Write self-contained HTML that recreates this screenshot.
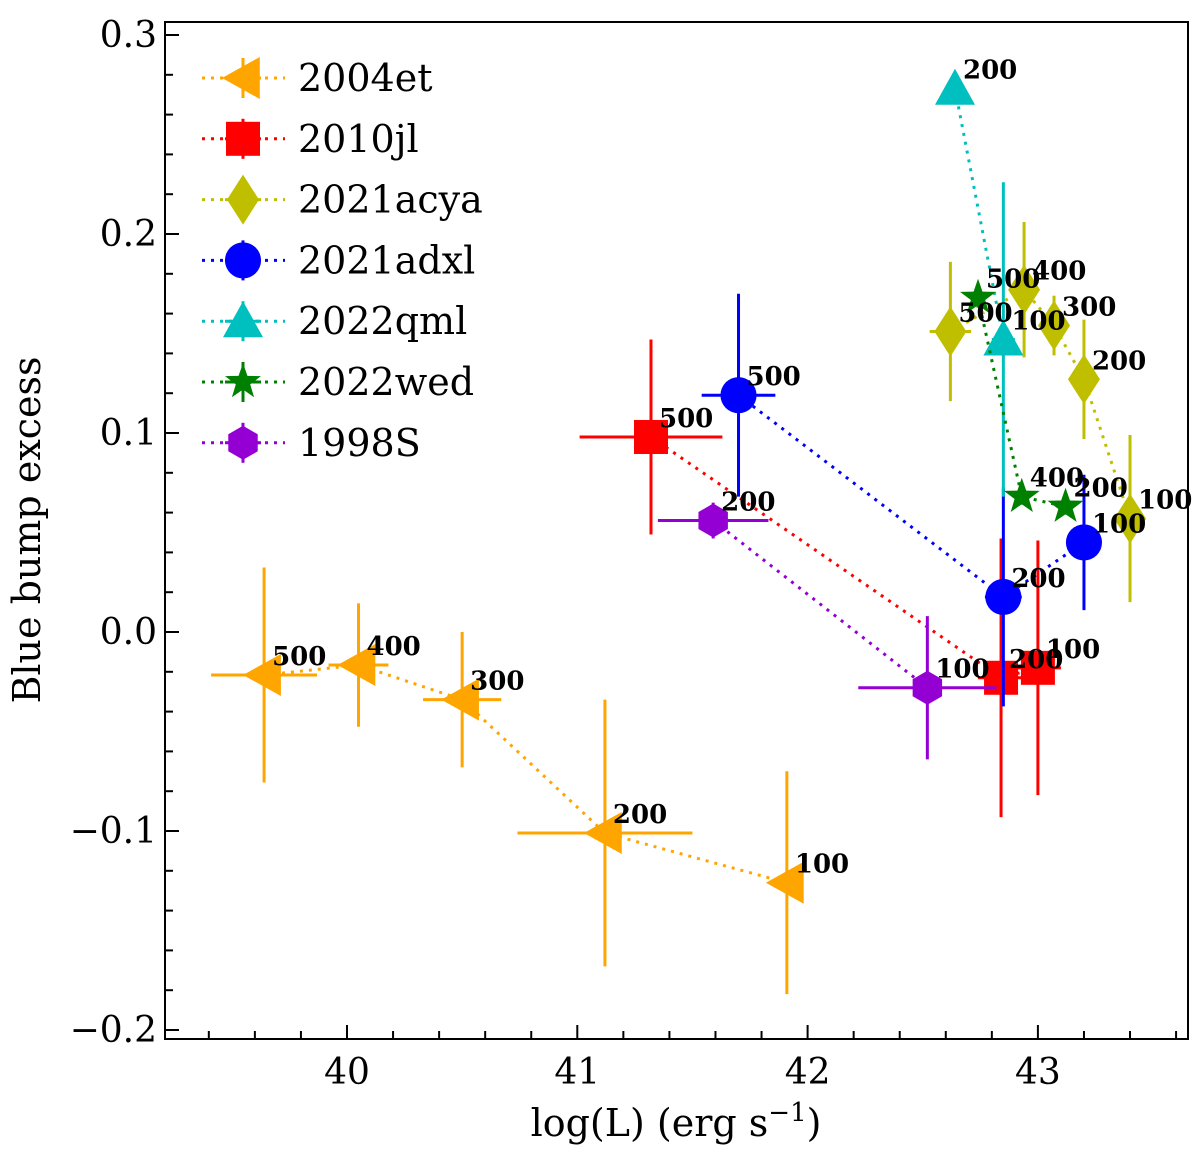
<!DOCTYPE html>
<html><head><meta charset="utf-8"><style>
body{margin:0;background:#fff}
svg text{font-family:"DejaVu Serif","Liberation Serif",serif}
</style></head><body>
<svg id="chart" width="1200" height="1156" xmlns="http://www.w3.org/2000/svg">
</svg>
<script>
const seriesNames=["2004et","2010jl","2021acya","2021adxl","2022qml","2022wed","1998S"];
const colors=["orange","red","#bfbf00","blue","#00bfbf","green","darkviolet"];
const markers=["tri","sq","dia","circ","triup","star","hex"];
const xs2004et=[39.64,40.05,40.50,41.12,41.91];
const ys2004et=[-0.0216,-0.0166,-0.034,-0.101,-0.126];
const xe2004et=[0.23,0.13,0.17,0.38,0];
const ye2004et=[0.054,0.031,0.034,0.067,0.056];
const lb2004et=["500","400","300","200","100"];
const xs2010jl=[41.32,42.84,43.0];
const ys2010jl=[0.098,-0.023,-0.018];
const xe2010jl=[0.31,0.1,0.1];
const ye2010jl=[0.049,0.07,0.064];
const lb2010jl=["500","200","100"];
const xs2021acya=[42.62,42.94,43.07,43.20,43.40];
const ys2021acya=[0.151,0.172,0.154,0.127,0.057];
const xe2021acya=[0.09,0.04,0.03,0.03,0.03];
const ye2021acya=[0.035,0.034,0.015,0.03,0.042];
const lb2021acya=["500","400","300","200","100"];
const xs2021adxl=[41.70,42.85,43.20];
const ys2021adxl=[0.119,0.0176,0.045];
const xe2021adxl=[0.16,0.08,0.03];
const ye2021adxl=[0.051,0.055,0.034];
const lb2021adxl=["500","200","100"];
const xs2022qml=[42.64,42.85];
const ys2022qml=[0.273,0.147];
const xe2022qml=[0.03,0.05];
const ye2022qml=[0.005,0.079];
const lb2022qml=["200","100"];
const xs2022wed=[42.74,42.93,43.12];
const ys2022wed=[0.168,0.068,0.063];
const xe2022wed=[0.03,0.02,0.02];
const ye2022wed=[0.005,0.004,0.004];
const lb2022wed=["500","400","200"];
const xs1998S=[41.59,42.52];
const ys1998S=[0.056,-0.028];
const xe1998S=[0.24,0.3];
const ye1998S=[0.009,0.036];
const lb1998S=["200","100"];
const xTicks=[40,41,42,43];
const yTicks=[-0.2,-0.1,0.0,0.1,0.2,0.3];
const yTickLabels=["\u22120.2","\u22120.1","0.0","0.1","0.2","0.3"];

const L=165,R=1188,T=22,B=1039;
const X=v=>347+(v-40)*230.3;
const Y=v=>632-v*1990;
const NS="http://www.w3.org/2000/svg";
const svg=document.getElementById('chart');
function mk(tag,at,parent){const e=document.createElementNS(NS,tag);for(const k in at)e.setAttribute(k,at[k]);(parent||svg).appendChild(e);return e;}
function marker(type,cx,cy,c,s,parent){
  let e;
  if(type==="circ")e=mk('circle',{cx:cx,cy:cy,r:s*0.95,fill:c},parent);
  else if(type==="sq")e=mk('rect',{x:cx-s*0.85,y:cy-s*0.85,width:s*1.7,height:s*1.7,fill:c},parent);
  else{
    let p=[];
    if(type==="tri")p=[[-s,0],[s*0.8,-s],[s*0.8,s]];
    else if(type==="triup")p=[[0,-s],[s,s*0.8],[-s,s*0.8]];
    else if(type==="dia")p=[[0,-s*1.25],[s*0.8,0],[0,s*1.25],[-s*0.8,0]];
    else if(type==="hex"){for(let i=0;i<6;i++){const a=Math.PI/2+i*Math.PI/3;p.push([s*Math.cos(a),-s*Math.sin(a)]);}}
    else if(type==="star"){for(let i=0;i<10;i++){const a=Math.PI/2+i*Math.PI/5;const r=i%2?s*0.42:s*1.05;p.push([r*Math.cos(a),-r*Math.sin(a)]);}}
    e=mk('polygon',{points:p.map(q=>(cx+q[0])+","+(cy+q[1])).join(" "),fill:c},parent);
  }
  return e;
}
const frame=mk('rect',{x:L,y:T,width:R-L,height:B-T,fill:'none',stroke:'#000','stroke-width':2});


for(let v=39.4;v<43.65;v+=0.2){const px=X(v);const major=Math.abs(v-Math.round(v))<1e-6;mk('line',{x1:px,x2:px,y1:B,y2:B-(major?14:8),stroke:'#000','stroke-width':2});}
xTicks.forEach(v=>{const t=mk('text',{x:X(v),y:B+45,'font-size':36,'text-anchor':'middle'});t.textContent=v;

});
for(let i=-10;i<=15;i++){const v=i*0.02;const py=Y(v);if(py<T||py>B)continue;const major=i%5===0;mk('line',{x1:L,x2:L+(major?14:8),y1:py,y2:py,stroke:'#000','stroke-width':2});}
yTicks.forEach((v,i)=>{const t=mk('text',{x:L-8,y:Y(v)+12,'font-size':36,'text-anchor':'end'});t.textContent=yTickLabels[i];

});
const xl=mk('text',{x:676,y:1136,'font-size':38,'text-anchor':'middle'});xl.textContent="log(L) (erg s";
const sup=mk('tspan',{dy:-15,'font-size':26},xl);sup.textContent="\u22121";
const cl=mk('tspan',{dy:15},xl);cl.textContent=")";


const yl=mk('text',{x:0,y:0,'font-size':38,'text-anchor':'middle',transform:'translate(40,530) rotate(-90)'});yl.textContent="Blue bump excess";



const data=[[xs2004et,ys2004et,xe2004et,ye2004et,lb2004et],[xs2010jl,ys2010jl,xe2010jl,ye2010jl,lb2010jl],[xs2021acya,ys2021acya,xe2021acya,ye2021acya,lb2021acya],[xs2021adxl,ys2021adxl,xe2021adxl,ye2021adxl,lb2021adxl],[xs2022qml,ys2022qml,xe2022qml,ye2022qml,lb2022qml],[xs2022wed,ys2022wed,xe2022wed,ye2022wed,lb2022wed],[xs1998S,ys1998S,xe1998S,ye1998S,lb1998S]];
const sizes=[21,20,20,19,20,18,17];
data.forEach((d,si)=>{
  const g=mk('g',{});
  
  
  const c=colors[si];
  mk('polyline',{points:d[0].map((x,i)=>X(x)+","+Y(d[1][i])).join(" "),fill:'none',stroke:c,'stroke-width':3,'stroke-dasharray':'3 6'},g);
  d[0].forEach((x,i)=>{
    const px=X(x),py=Y(d[1][i]);
    if(d[2][i]>0)mk('line',{x1:X(x-d[2][i]),x2:X(x+d[2][i]),y1:py,y2:py,stroke:c,'stroke-width':3},g);
    mk('line',{x1:px,x2:px,y1:Y(d[1][i]-d[3][i]),y2:Y(d[1][i]+d[3][i]),stroke:c,'stroke-width':3},g);
    const m=marker(markers[si],px,py,c,sizes[si],g);
    
    
  });
});
data.forEach((d,si)=>{d[0].forEach((x,i)=>{
  const t=mk('text',{x:X(x)+8,y:Y(d[1][i])-10,'font-size':26,'font-weight':'bold'});t.textContent=d[4][i];
  
  
});});
seriesNames.forEach((n,i)=>{
  const cy=78+i*60.8,c=colors[i];
  const g=mk('g',{});
  
  
  mk('line',{x1:202,x2:285,y1:cy,y2:cy,stroke:c,'stroke-width':3,'stroke-dasharray':'3 6'},g);
  mk('line',{x1:243,x2:243,y1:cy-20,y2:cy+20,stroke:c,'stroke-width':3},g);
  mk('line',{x1:225,x2:261,y1:cy,y2:cy,stroke:c,'stroke-width':3},g);
  marker(markers[i],243,cy,c,sizes[i],g);
  const t=mk('text',{x:298,y:cy+13,'font-size':38},g);t.textContent=n;
});
</script>
</body></html>
